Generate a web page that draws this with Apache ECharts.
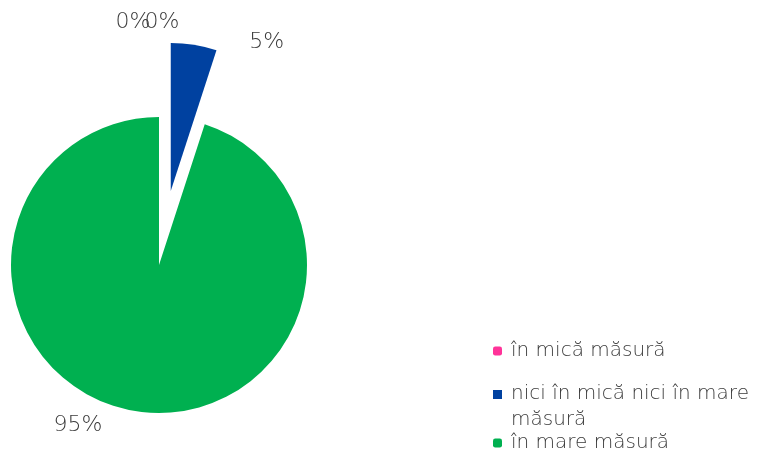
<!DOCTYPE html>
<html>
<head>
<meta charset="utf-8">
<script src="https://cdn.jsdelivr.net/npm/echarts@6/dist/echarts.min.js"></script>
<style>html,body{margin:0;padding:0;background:#fff;}#chart{width:757px;height:450px;}</style>
</head>
<body>
<div id="chart"></div>
<script>
var categories = ['în foarte mică măsură', 'în mică măsură', 'nici în mică nici în mare măsură', 'în mare măsură'];
var values = [0, 0, 5, 95];
var legendNames = ['în mică măsură', 'nici în mică nici în mare măsură', 'în mare măsură'];
var colors = ['#7f7f7f', '#FF3399', '#0041A0', '#00B050'];
var labelPos = [[133, 22], [162, 22], null, [78, 425]];

var font = 'DejaVu Sans';
var chart = echarts.init(document.getElementById('chart'), null, {renderer: 'canvas'});
var data = categories.map(function (c, i) {
  var d = {name: c, value: values[i], itemStyle: {color: colors[i]}};
  if (i === 2) {
    d.selected = true;
    d.labelLine = {show: false, length: 3, length2: 50};
  }
  return d;
});
var legendBase = {
  orient: 'vertical', left: 493, padding: 0, itemWidth: 9, itemHeight: 9,
  selectedMode: false,
  textStyle: {fontFamily: font, fontSize: 20, fontWeight: 300, color: '#3a3a3a', lineHeight: 26, padding: [0, 0, 0, 4]}
};
function lg(name, top, extra) {
  return Object.assign({}, legendBase, {top: top, data: [name]}, extra || {});
}
chart.setOption({
  animation: false,
  legend: [
    lg(legendNames[0], 338),
    lg(legendNames[1], 381, {
      itemHeight: 34,
      data: [{name: legendNames[1], icon: 'path://M0,0h9v9h-9zM0,34'}],
      formatter: function (n) { return 'nici în mică nici în mare\nmăsură'; }
    }),
    lg(legendNames[2], 430)
  ],
  series: [{
    type: 'pie',
    center: [159, 265],
    radius: 148,
    startAngle: 90,
    clockwise: true,
    selectedMode: 'single',
    selectedOffset: 75,
    avoidLabelOverlap: false,
    minShowLabelAngle: 0,
    stillShowZeroSum: true,
    itemStyle: {borderWidth: 0},
    label: {
      show: true,
      formatter: function (p) { return p.value + '%'; },
      fontFamily: font, fontSize: 22, fontWeight: 300, color: '#3a3a3a'
    },
    labelLine: {show: false},
    labelLayout: function (p) {
      var pos = labelPos[p.dataIndex];
      if (!pos) return;
      return {x: pos[0], y: pos[1], align: 'center', verticalAlign: 'middle'};
    },
    emphasis: {disabled: true},
    data: data
  }]
});
</script>
</body>
</html>
